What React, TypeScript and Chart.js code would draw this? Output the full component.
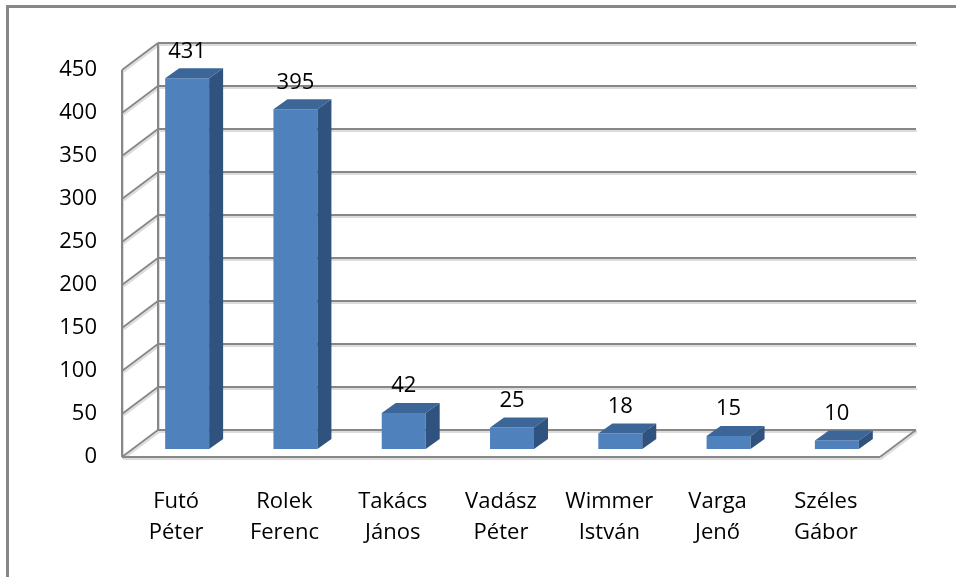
import React, { useEffect, useRef } from 'react';
import { Chart, registerables } from 'chart.js';

Chart.register(...registerables);

const categories: string[][] = [
  ['Futó', 'Péter'],
  ['Rolek', 'Ferenc'],
  ['Takács', 'János'],
  ['Vadász', 'Péter'],
  ['Wimmer', 'István'],
  ['Varga', 'Jenő'],
  ['Széles', 'Gábor'],
];
const values: number[] = [431, 395, 42, 25, 18, 15, 10];
const yMin = 0;
const yMax = 450;
const yStep = 50;

const FONT = '"Open Sans", "DejaVu Sans", sans-serif';
const GRID = '#878787';
const SHADOW = '#dcdcdc';
const FRONT = '#4F81BD';
const TOP = '#3D6698';
const SIDE = '#30527F';

// depth offsets
const WALL_DX = 36;
const WALL_DY = -27;
const BAR_DX = 11;
const BAR_DY = -8;
const BAR_DEPTH_DX = 14;
const BAR_DEPTH_DY = -10;

const threeD = {
  id: 'threeD',
  beforeDatasetsDraw(chart: any) {
    const { ctx, chartArea, scales } = chart;
    const y = scales.y;
    const left = chartArea.left;
    const right = chartArea.right;
    const y0 = y.getPixelForValue(yMin);
    const yTop = y.getPixelForValue(yMax);

    const lines: number[][] = [];
    y.ticks.forEach((t: any) => {
      const py = y.getPixelForValue(t.value);
      lines.push([left + WALL_DX, py + WALL_DY, right + WALL_DX, py + WALL_DY]);
      lines.push([left, py, left + WALL_DX, py + WALL_DY]);
    });
    lines.push([left, yTop, left, y0]);
    lines.push([left + WALL_DX, yTop + WALL_DY, left + WALL_DX, y0 + WALL_DY]);
    lines.push([left, y0, right, y0]);
    lines.push([right, y0, right + WALL_DX, y0 + WALL_DY]);

    ctx.save();
    // outer frame
    ctx.strokeStyle = GRID;
    ctx.lineWidth = 3;
    ctx.beginPath();
    ctx.moveTo(7.5, chart.height + 2);
    ctx.lineTo(7.5, 6.5);
    ctx.lineTo(chart.width + 2, 6.5);
    ctx.stroke();

    ctx.lineWidth = 2;
    ctx.strokeStyle = SHADOW;
    lines.forEach((l) => {
      ctx.beginPath();
      ctx.moveTo(l[0] + 1, l[1] + 2);
      ctx.lineTo(l[2] + 1, l[3] + 2);
      ctx.stroke();
    });
    ctx.strokeStyle = GRID;
    lines.forEach((l) => {
      ctx.beginPath();
      ctx.moveTo(l[0], l[1]);
      ctx.lineTo(l[2], l[3]);
      ctx.stroke();
    });
    ctx.restore();

    ctx.save();
    ctx.translate(BAR_DX, BAR_DY);
  },
  afterDatasetsDraw(chart: any) {
    const { ctx } = chart;
    const meta = chart.getDatasetMeta(0);
    meta.data.forEach((el: any) => {
      const { x, y, base, width } = el.getProps(['x', 'y', 'base', 'width'], true);
      const l = x - width / 2;
      const r = x + width / 2;
      ctx.fillStyle = TOP;
      ctx.beginPath();
      ctx.moveTo(l, y);
      ctx.lineTo(l + BAR_DEPTH_DX, y + BAR_DEPTH_DY);
      ctx.lineTo(r + BAR_DEPTH_DX, y + BAR_DEPTH_DY);
      ctx.lineTo(r, y);
      ctx.closePath();
      ctx.fill();
      ctx.fillStyle = SIDE;
      ctx.beginPath();
      ctx.moveTo(r, y);
      ctx.lineTo(r + BAR_DEPTH_DX, y + BAR_DEPTH_DY);
      ctx.lineTo(r + BAR_DEPTH_DX, base + BAR_DEPTH_DY);
      ctx.lineTo(r, base);
      ctx.closePath();
      ctx.fill();
    });
    ctx.restore();

    ctx.save();
    ctx.fillStyle = '#000';
    ctx.font = `22px ${FONT}`;
    ctx.textAlign = 'center';
    ctx.textBaseline = 'middle';
    meta.data.forEach((el: any, i: number) => {
      const { x, y } = el.getProps(['x', 'y'], true);
      ctx.fillText(String(values[i]), x + BAR_DX, y + BAR_DY - 27);
    });
    ctx.restore();
  },
};

export default function App() {
  const ref = useRef<HTMLCanvasElement | null>(null);
  useEffect(() => {
    document.body.style.margin = '0';
    const canvas = ref.current;
    if (!canvas) return;
    const chart = new Chart(canvas, {
      type: 'bar',
      data: {
        labels: categories,
        datasets: [
          {
            data: values,
            backgroundColor: FRONT,
            borderWidth: 0,
            categoryPercentage: 1,
            barPercentage: 0.406,
          },
        ],
      },
      options: {
        animation: false,
        responsive: false,
        events: [],
        layout: { padding: { top: 70, right: 76, bottom: 0, left: 0 } },
        plugins: { legend: { display: false }, tooltip: { enabled: false }, title: { display: false } },
        scales: {
          x: {
            grid: { display: false, drawTicks: false },
            border: { display: false },
            ticks: { color: '#000', font: { family: FONT, size: 22, lineHeight: 1.38 }, padding: 30, maxRotation: 0, autoSkip: false },
            afterFit: (axis: any) => {
              axis.height = 120;
            },
          },
          y: {
            min: yMin,
            max: yMax,
            grid: { display: false, drawTicks: false },
            border: { display: false },
            ticks: { stepSize: yStep, color: '#000', font: { family: FONT, size: 22 }, padding: 25 },
            afterFit: (axis: any) => {
              axis.width = 122;
            },
          },
        },
      },
      plugins: [threeD],
    });
    return () => chart.destroy();
  }, []);
  return <canvas ref={ref} width={956} height={577} style={{ display: 'block' }} />;
}
